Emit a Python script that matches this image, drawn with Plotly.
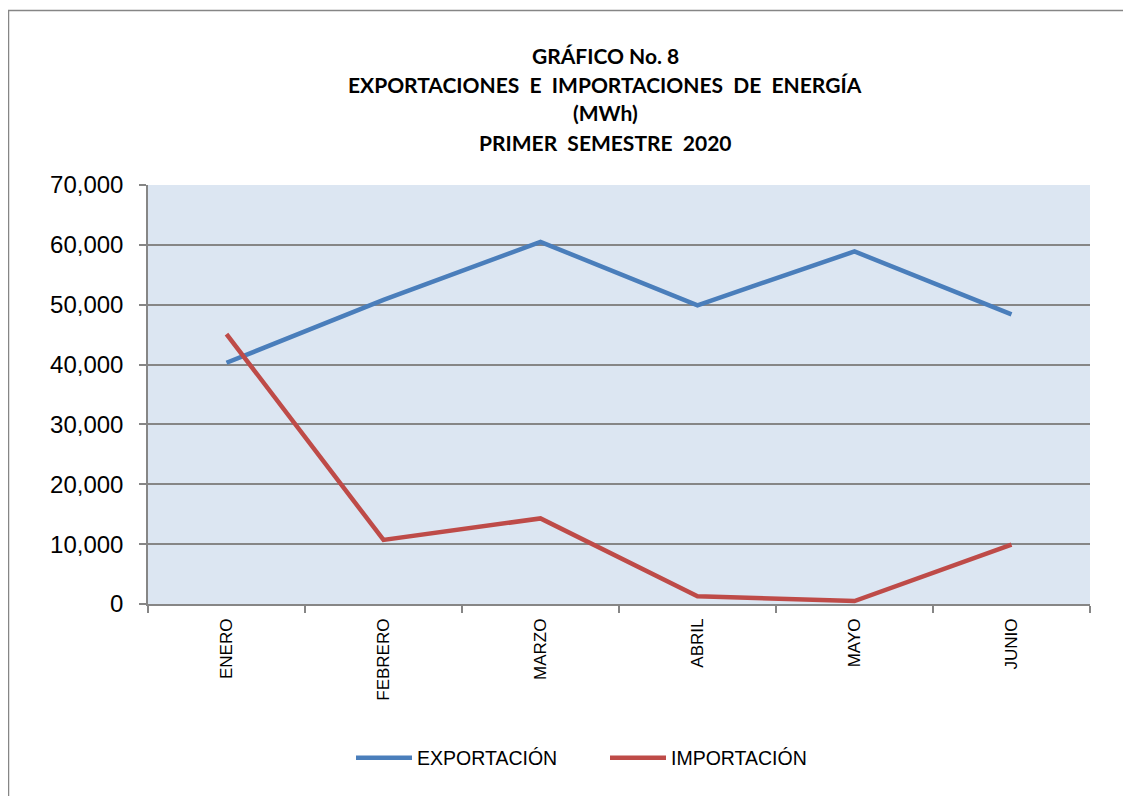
import plotly.graph_objects as go

# data
meses = ['ENERO', 'FEBRERO', 'MARZO', 'ABRIL', 'MAYO', 'JUNIO']
exportacion = [40300, 50800, 60500, 49900, 58900, 48400]
importacion = [45100, 10700, 14300, 1300, 500, 9900]

title_lines = [
    'GRÁFICO No. 8',
    'EXPORTACIONES\u00a0\u00a0E\u00a0\u00a0IMPORTACIONES\u00a0\u00a0DE\u00a0\u00a0ENERGÍA',
    '(MWh)',
    'PRIMER\u00a0\u00a0SEMESTRE\u00a0\u00a02020',
]

# the page body adds an 8px margin, so the figure is shifted by that amount
OFF = 8
W, H = 1131 - OFF, 796 - OFF
L, R, T, B = 148 - OFF, 41, 185 - OFF, 192
pw, ph = W - L - R, H - T - B


def px_x(x):
    # screen pixel -> paper coordinate
    return (x - OFF - L) / pw


def px_y(y):
    return (H - B - (y - OFF)) / ph


fig = go.Figure()

fig.add_trace(go.Scatter(
    x=meses, y=exportacion, mode='lines', name='EXPORTACIÓN',
    line=dict(color='#4A7EBB', width=4.5)
))
fig.add_trace(go.Scatter(
    x=meses, y=importacion, mode='lines', name='IMPORTACIÓN',
    line=dict(color='#BE4B48', width=4.5)
))

# title as separate lines to get the spacing right
for txt, ypix in zip(title_lines, [55, 84, 112, 142]):
    fig.add_annotation(
        text=f'<b>{txt}</b>', xref='paper', yref='paper',
        x=px_x(605), y=px_y(ypix), xanchor='center', yanchor='middle',
        showarrow=False, font=dict(family='Lato, Carlito, sans-serif', size=21, color='black')
    )

# outer chart border
fig.add_shape(
    type='rect', xref='paper', yref='paper',
    x0=px_x(8.5), x1=px_x(1131 + 10), y0=px_y(10.5), y1=px_y(796 + 10),
    line=dict(color='#868686', width=1.5), layer='above'
)

fig.update_layout(
    width=W, height=H,
    margin=dict(l=L, r=R, t=T, b=B),
    paper_bgcolor='white',
    plot_bgcolor='#DCE6F2',
    showlegend=True,
    legend=dict(
        orientation='h', x=px_x(605), y=px_y(758), xanchor='center', yanchor='middle',
        font=dict(family='Liberation Sans, Arial', size=19.5, color='black'),
        entrywidth=183, itemwidth=56
    ),
    xaxis=dict(
        type='category', range=[-0.5, 5.5], tickson='boundaries',
        ticks='outside', ticklen=7, tickcolor='#868686', tickwidth=1.5,
        showline=True, linecolor='#868686', linewidth=1.5,
        showgrid=False, tickangle=-90, ticklabelstandoff=6,
        tickfont=dict(family='Liberation Sans, Arial', size=17, color='black')
    ),
    yaxis=dict(
        range=[0, 70000], dtick=10000, tickformat=',d',
        ticks='outside', ticklen=7, tickcolor='#868686', tickwidth=1.5,
        showline=True, linecolor='#868686', linewidth=1.5,
        showgrid=True, gridcolor='#868686', gridwidth=1.5,
        zeroline=False, ticklabelstandoff=11,
        tickfont=dict(family='Liberation Sans, Arial', size=24, color='black')
    ),
)

fig.write_html('out.html')
